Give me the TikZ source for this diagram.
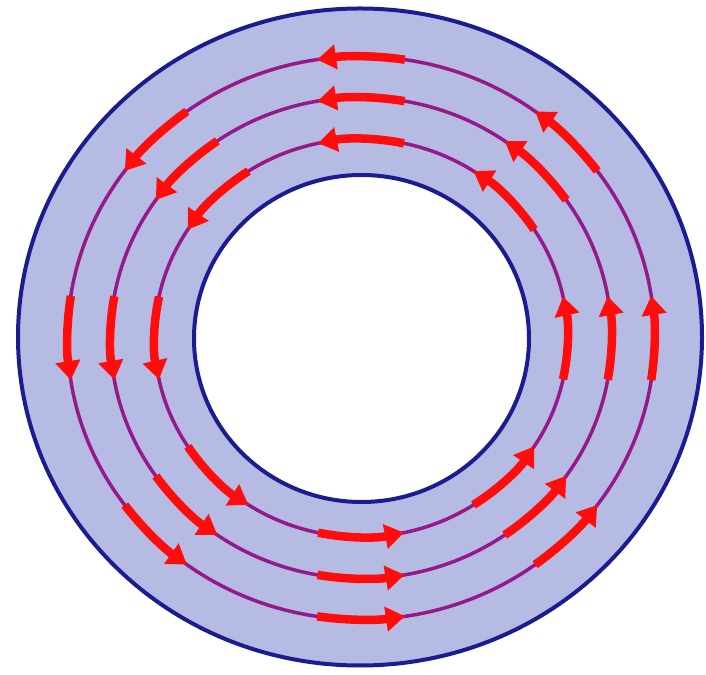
\documentclass[tikz,border=0pt]{standalone}
\usetikzlibrary{arrows.meta}
\definecolor{ringfill}{RGB}{182,187,228}
\definecolor{ringedge}{RGB}{28,28,145}
\definecolor{orbitcol}{RGB}{150,25,140}
\definecolor{flowcol}{RGB}{255,12,12}
\begin{document}
\begin{tikzpicture}[x=1pt,y=1pt,
  ringline/.style={draw=ringedge, line width=4pt},
  orbitline/.style={draw=orbitcol, line width=3.5pt},
  flowarrow/.style={draw=flowcol, line width=8.5pt, -{Triangle[width=24pt,length=19pt]}}]
\useasboundingbox (0,0) rectangle (706,674);
\fill[white] (0,0) rectangle (706,674);
\coordinate (c) at (361,336);
\coordinate (co) at (360,337);
\coordinate (ci) at (361.5,335.5);
% annulus
\path[fill=ringfill, even odd rule] (co) ellipse [x radius=342, y radius=328.5]
  (ci) ellipse [x radius=167.5, y radius=163.5];
\draw[ringline] (co) ellipse [x radius=342, y radius=328.5];
\draw[ringline] (ci) ellipse [x radius=167.5, y radius=163.5];
% orbits
\foreach \rx/\ry in {293.5/281.5, 250.5/240.5, 206.5/199}
  \draw[orbitline] (c) ellipse [x radius=\rx, y radius=\ry];
% flow arrows
\foreach \rx/\ry/\h in {293.5/281.5/8.6, 250.5/240.5/10, 206.5/199/12}
  \foreach \a in {0,45,...,315}
    \draw[flowarrow] ([shift={({\rx*cos(\a-\h)},{\ry*sin(\a-\h)})}]c)
      arc[start angle=\a-\h, end angle=\a+\h, x radius=\rx, y radius=\ry];
\end{tikzpicture}
\end{document}
